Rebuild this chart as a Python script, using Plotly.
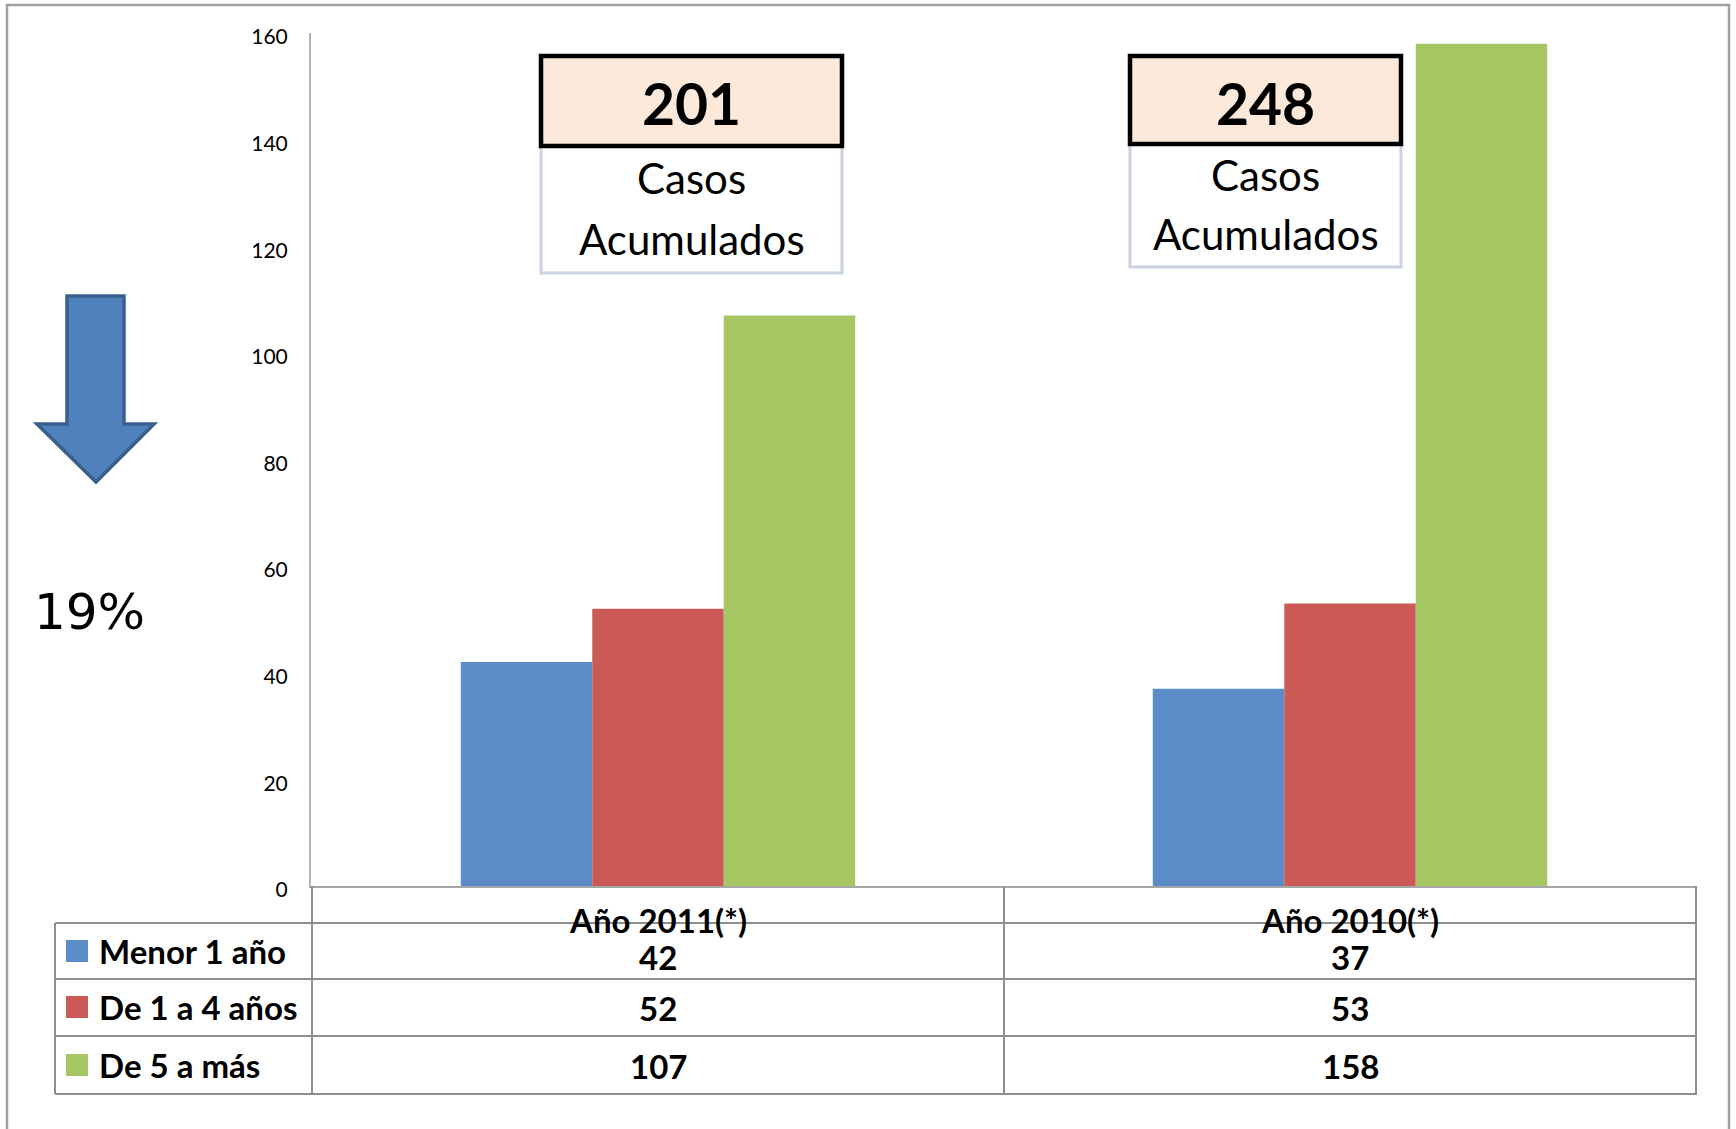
import plotly.graph_objects as go

# ---- data ----
categories = ["Año 2011(*)", "Año 2010(*)"]
series_names = ["Menor 1 año", "De 1 a 4 años", "De 5 a más"]
menor_1 = [42, 37]
de_1_a_4 = [52, 53]
de_5_a_mas = [107, 158]
series_values = [menor_1, de_1_a_4, de_5_a_mas]
series_colors = ["#5B8CC8", "#CB5955", "#A6C664"]
totals = [201, 248]
total_caption = "Casos<br>Acumulados"
change_text = "19%"
y_ticks = [0, 20, 40, 60, 80, 100, 120, 140, 160]

W, H = 1736, 1129


def X(px):
    return px / W


def Y(py):
    return 1 - py / H


FONT = "Lato, 'Noto Sans', sans-serif"
TFS = 33  # table font size

fig = go.Figure()
for name, vals, col in zip(series_names, series_values, series_colors):
    fig.add_trace(go.Bar(x=categories, y=vals, name=name,
                         marker=dict(color=col, line=dict(width=0))))

shapes = []
annotations = []

# outer frame (no bottom edge)
shapes.append(dict(type="path", xref="paper", yref="paper",
                   path=f"M {X(7)} {Y(1129)} L {X(7)} {Y(5)} L {X(1729)} {Y(5)} L {X(1729)} {Y(1129)}",
                   line=dict(color="#A0A0A0", width=2.5)))

# data table grid
grid = dict(color="#8E8E8E", width=2)
row_lines = [923, 979, 1036, 1094]
for ry in row_lines:
    shapes.append(dict(type="line", xref="paper", yref="paper",
                       x0=X(55), x1=X(1697), y0=Y(ry), y1=Y(ry), line=grid))
shapes.append(dict(type="line", xref="paper", yref="paper",
                   x0=X(55), x1=X(55), y0=Y(923), y1=Y(1094), line=grid))
for xv in [-0.5, 0.5, 1.5]:
    shapes.append(dict(type="line", xref="x", yref="paper",
                       x0=xv, x1=xv, y0=Y(886), y1=Y(1094), line=grid))

# legend keys + series names + values
row_centers = [951, 1007, 1065]
value_centers = [957, 1008, 1066]
for i, (name, vals, col) in enumerate(zip(series_names, series_values, series_colors)):
    cy = row_centers[i]
    shapes.append(dict(type="rect", xref="paper", yref="paper",
                       x0=X(66), x1=X(88), y0=Y(cy - 11), y1=Y(cy + 11),
                       fillcolor=col, line=dict(width=0)))
    annotations.append(dict(xref="paper", yref="paper", x=X(97), y=Y(cy),
                            text=f"<b>{name}</b>", showarrow=False,
                            xanchor="left", yanchor="middle",
                            font=dict(family=FONT, size=TFS, color="black")))
    for cat, v in zip(categories, vals):
        annotations.append(dict(xref="x", yref="paper", x=cat, y=Y(value_centers[i]),
                                text=f"<b>{v}</b>", showarrow=False,
                                xanchor="center", yanchor="middle",
                                font=dict(family=FONT, size=TFS, color="black")))

# category labels (sitting on the table header line)
for cat in categories:
    annotations.append(dict(xref="x", yref="paper", x=cat, y=Y(920),
                            text=f"<b>{cat}</b>", showarrow=False,
                            xanchor="center", yanchor="middle",
                            font=dict(family=FONT, size=TFS, color="black")))

# total boxes
boxes = [
    dict(x0=541, x1=842, top=56, mid=146, bot=273, ty=103, c1=178, c2=239),
    dict(x0=1130, x1=1401, top=56, mid=144, bot=267, ty=103, c1=175, c2=234),
]
for b, tot in zip(boxes, totals):
    shapes.append(dict(type="rect", xref="paper", yref="paper",
                       x0=X(b["x0"]), x1=X(b["x1"]), y0=Y(b["mid"]), y1=Y(b["bot"]),
                       fillcolor="white", line=dict(color="#C9D3E3", width=3)))
    shapes.append(dict(type="rect", xref="paper", yref="paper",
                       x0=X(b["x0"]), x1=X(b["x1"]), y0=Y(b["top"]), y1=Y(b["mid"]),
                       fillcolor="#FDE9DA", line=dict(color="black", width=4.5)))
    cx = X((b["x0"] + b["x1"]) / 2)
    annotations.append(dict(xref="paper", yref="paper", x=cx, y=Y(b["ty"]),
                            text=f"<b>{tot}</b>", showarrow=False,
                            xanchor="center", yanchor="middle",
                            font=dict(family=FONT, size=57, color="black")))
    for line_txt, ly in zip(total_caption.split("<br>"), [b["c1"], b["c2"]]):
        annotations.append(dict(xref="paper", yref="paper", x=cx, y=Y(ly),
                                text=line_txt, showarrow=False,
                                xanchor="center", yanchor="middle",
                                font=dict(family=FONT, size=42, color="black")))

# down arrow
arrow_path = (f"M {X(67)} {Y(296)} L {X(124)} {Y(296)} L {X(124)} {Y(424)} "
              f"L {X(154)} {Y(424)} L {X(96)} {Y(482)} L {X(37)} {Y(424)} "
              f"L {X(67)} {Y(424)} Z")
shapes.append(dict(type="path", xref="paper", yref="paper", path=arrow_path,
                   fillcolor="#4F81BD", line=dict(color="#3A5F8E", width=3.5)))

annotations.append(dict(xref="paper", yref="paper", x=X(32), y=Y(612),
                        text=change_text, showarrow=False,
                        xanchor="left", yanchor="middle",
                        font=dict(family="'DejaVu Sans', sans-serif", size=50, color="black")))

fig.update_layout(
    width=W, height=H,
    margin=dict(l=0, r=0, t=0, b=0, pad=0, autoexpand=False),
    paper_bgcolor="white", plot_bgcolor="white",
    showlegend=False,
    barmode="group", bargap=0.43, bargroupgap=0,
    shapes=shapes, annotations=annotations,
    xaxis=dict(domain=[X(311), X(1697)], showticklabels=False, ticks="",
               showgrid=False, zeroline=False, automargin=False,
               showline=True, linecolor="#A6A6A6", linewidth=2),
    yaxis=dict(domain=[Y(886), Y(33)], range=[0, 160], tickvals=y_ticks,
               ticks="", showgrid=False, zeroline=False, automargin=False,
               showline=True, linecolor="#B4B4B4", linewidth=2,
               ticklabelstandoff=17, ticklabelshift=4,
               tickfont=dict(family=FONT, size=21, color="black")),
)

fig.write_html(
    "out.html",
    config={"displayModeBar": False},
    post_script="document.body.style.margin='0px';document.body.style.padding='0px';"
                "document.documentElement.style.overflow='hidden';",
)
